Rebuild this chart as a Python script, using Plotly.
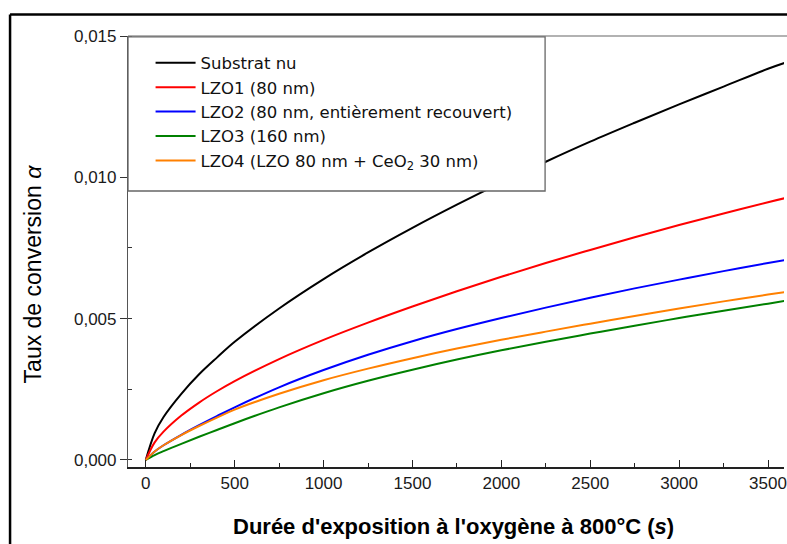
import plotly.graph_objects as go

# Exposure time (s)
t = [0, 50, 100, 200, 300, 400, 500, 750, 1000, 1250, 1500, 1750, 2000,
     2250, 2500, 2750, 3000, 3250, 3500, 3600]

substrat_nu = [0, 0.00095, 0.00152, 0.00234, 0.00303, 0.00362, 0.00418, 0.00536,
               0.00640, 0.00734, 0.00821, 0.00903, 0.00981, 0.01055, 0.01126,
               0.01193, 0.01258, 0.01321, 0.01384, 0.01406]
lzo1 = [0, 0.00062, 0.00100, 0.00157, 0.00203, 0.00243, 0.00279, 0.00357,
        0.00425, 0.00486, 0.00543, 0.00597, 0.00648, 0.00697, 0.00743,
        0.00788, 0.00831, 0.00872, 0.00912, 0.00927]
lzo2 = [0, 0.00030, 0.00052, 0.00089, 0.00123, 0.00155, 0.00186, 0.00257,
        0.00318, 0.00372, 0.00420, 0.00463, 0.00502, 0.00539, 0.00574,
        0.00607, 0.00638, 0.00668, 0.00697, 0.00708]
lzo3 = [0, 0.00017, 0.00031, 0.00057, 0.00082, 0.00106, 0.00130, 0.00186,
        0.00236, 0.00280, 0.00319, 0.00355, 0.00388, 0.00418, 0.00447,
        0.00475, 0.00502, 0.00528, 0.00553, 0.00563]
lzo4 = [0, 0.00030, 0.00052, 0.00088, 0.00120, 0.00150, 0.00178, 0.00234,
        0.00282, 0.00323, 0.00360, 0.00394, 0.00425, 0.00454, 0.00482,
        0.00509, 0.00536, 0.00561, 0.00585, 0.00594]

series_names = ["Substrat nu", "LZO1 (80 nm)", "LZO2 (80 nm, entièrement recouvert)",
                "LZO3 (160 nm)", "LZO4 (LZO 80 nm + CeO<sub>2</sub> 30 nm)"]
series_values = [substrat_nu, lzo1, lzo2, lzo3, lzo4]
series_colors = ["#000000", "#ff0000", "#0000ff", "#008000", "#ff8000"]

x_ticks = [0, 500, 1000, 1500, 2000, 2500, 3000, 3500]
y_ticks = [0.0, 0.005, 0.010, 0.015]

fig = go.Figure()
for name, vals, col in zip(series_names, series_values, series_colors):
    fig.add_trace(go.Scatter(x=t, y=vals, name=name, mode="lines",
                             line=dict(color=col, width=2, shape="spline")))

tickfont = dict(family="Liberation Sans, Arial", size=17, color="#1a1a1a")

fig.update_layout(
    width=787, height=544,
    margin=dict(l=128, r=0, t=36, b=77),
    paper_bgcolor="white", plot_bgcolor="white",
    separators=",.",
    showlegend=True,
    legend=dict(x=0.0344, y=0.978, xanchor="left", yanchor="top",
                bgcolor="rgba(0,0,0,0)", borderwidth=0,
                font=dict(family="DejaVu Sans", size=16.5, color="#111"),
                traceorder="normal", itemwidth=40),
    xaxis=dict(range=[-100, 3590], tickvals=x_ticks, ticks="inside", ticklen=7,
               tickwidth=1.2, tickcolor="#222", showline=True, linecolor="#222",
               linewidth=1.5, showgrid=False, zeroline=False, tickfont=tickfont,
               tickformat="d", ticklabeloverflow="allow",
               minor=dict(dtick=250, tick0=0, ticks="inside", ticklen=4,
                          tickcolor="#222", tickwidth=1.2, showgrid=False)),
    yaxis=dict(range=[-0.00025, 0.01500], tickvals=y_ticks, ticks="outside",
               ticklen=7, tickwidth=1.2, tickcolor="#333", showline=True,
               linecolor="#555", linewidth=1.2, showgrid=False, zeroline=False,
               tickfont=tickfont, tickformat=".3f",
               minor=dict(dtick=0.0025, tick0=0, ticks="inside", ticklen=4,
                          tickcolor="#333", tickwidth=1.2, showgrid=False)),
)

# top frame line of plot area
fig.add_shape(type="line", xref="paper", yref="paper", x0=0, x1=1.05, y0=1, y1=1,
              line=dict(color="#666", width=1.2))
# legend box
fig.add_shape(type="rect", xref="paper", yref="paper", x0=0, x1=0.6358,
              y0=0.6404, y1=0.998, line=dict(color="#666", width=1.3),
              fillcolor="white", layer="above")
# outer black frame
fig.add_shape(type="line", xref="paper", yref="paper", x0=-0.1798, x1=-0.1798,
              y0=-0.3, y1=1.0499, line=dict(color="black", width=2.5))
fig.add_shape(type="line", xref="paper", yref="paper", x0=-0.1798, x1=1.1,
              y0=1.0499, y1=1.0499, line=dict(color="black", width=2.5))

fig.add_annotation(text="Taux de conversion <i>α</i>", xref="paper", yref="paper",
                   x=-0.1442, y=0.4478, xanchor="center", yanchor="middle",
                   textangle=-90, showarrow=False,
                   font=dict(family="Liberation Sans, Arial", size=23, color="black"))
fig.add_annotation(text="<b>Durée d'exposition à l'oxygène à 800°C (<i>s</i>)</b>",
                   xref="paper", yref="paper", x=0.496, y=-0.139,
                   xanchor="center", yanchor="middle", showarrow=False,
                   font=dict(family="Liberation Sans, Arial", size=22, color="black"))

fig.write_html("out.html", config={"displayModeBar": False},
               post_script="document.body.style.margin='0';document.body.style.overflow='hidden';")
